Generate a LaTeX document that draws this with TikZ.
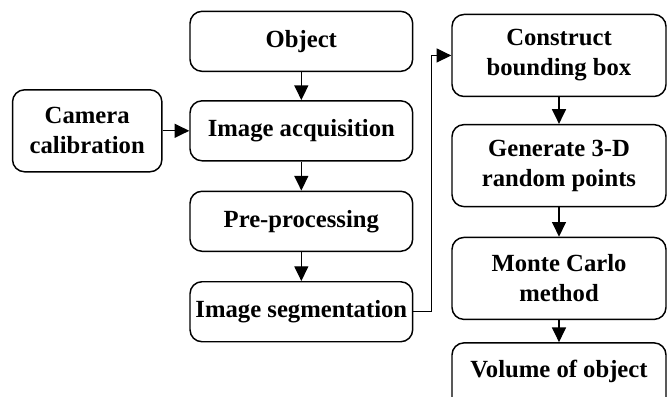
\documentclass[tikz,border=0pt]{standalone}
\usepackage{fontspec}
\setmainfont{Liberation Serif}
\usepackage{tikz}
\usetikzlibrary{arrows.meta,positioning}

\begin{document}
\begin{tikzpicture}
\tikzset{
     stage/.style={draw, rounded corners=9pt, line width=1.1pt, align=center,
                   inner sep=2pt, font=\fontsize{18.5}{22.5}\selectfont\bfseries},
     leftstage/.style={stage, minimum width=167pt, minimum height=45pt},
     rightstage/.style={stage, minimum width=160.5pt, minimum height=61.5pt},
     flow/.style={line width=0.9pt, -{Triangle[length=11pt,width=10.5pt]}}}

\useasboundingbox (0,0) rectangle (500.25pt,-297pt);

% The left column
\node (object) [leftstage] at (226pt,-31pt) {Object};
\node (acquisition)  [leftstage, below=21pt of object] {Image acquisition};
\node (preprocess)   [leftstage, below=21.75pt of acquisition] {Pre-processing};
\node (segmentation) [leftstage, below=21.75pt of preprocess] {Image segmentation};
\node (calibration)  [stage, minimum width=112pt, minimum height=61.5pt,
                      left=20pt of acquisition] {Camera\\calibration};

% The right column
\node (bbox) [rightstage] at (419.25pt,-41.6pt) {Construct\\bounding box};
\node (points)  [rightstage, below=20pt of bbox] {Generate 3-D\\random points};
\node (carlo)   [rightstage, below=22pt of points] {Monte Carlo\\method};
\node (volume)  [rightstage, text depth=22pt, below=16.5pt of carlo] {Volume of object};

% The arrows
\draw [flow] (object) -- (acquisition);
\draw [flow] (acquisition) -- (preprocess);
\draw [flow] (preprocess) -- (segmentation);
\draw [flow] (calibration) -- (acquisition);
\draw [flow] (segmentation.east) -- ++(13.5pt,0) |- (bbox.west);
\draw [flow] (bbox) -- (points);
\draw [flow] (points) -- (carlo);
\draw [flow] (carlo) -- (volume);
\end{tikzpicture}
\end{document}
